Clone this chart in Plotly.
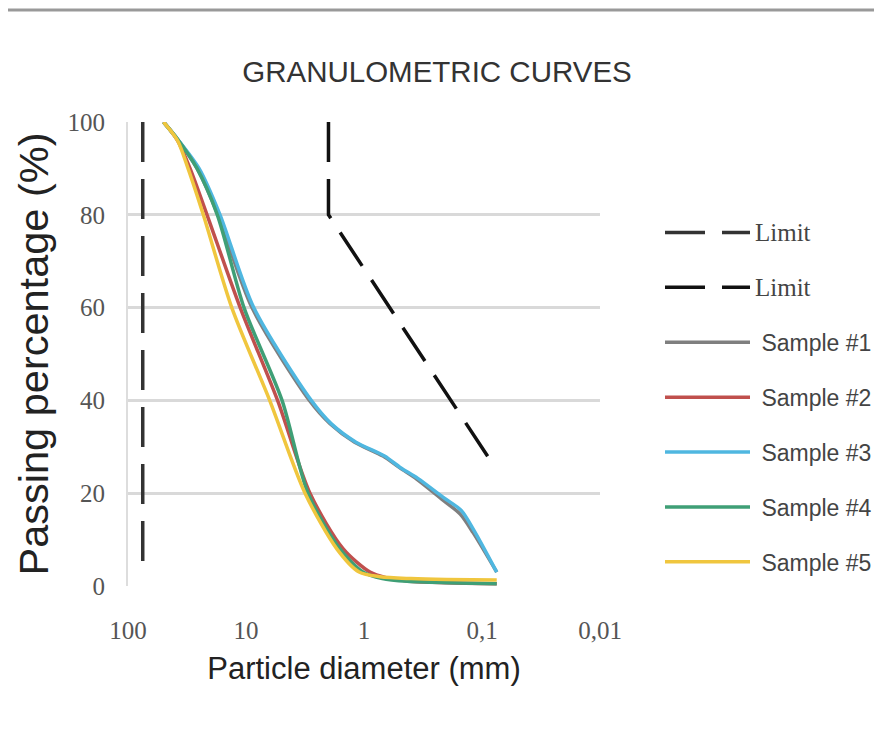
import plotly.graph_objects as go

# ---- data ----
tick_vals = [100, 10, 1, 0.1, 0.01]
tick_text = ["100", "10", "1", "0,1", "0,01"]
y_ticks = [0, 20, 40, 60, 80, 100]

limit1_d = [75, 75]
limit1_p = [100, 3]
limit2_d = [2, 2, 0.075]
limit2_p = [100, 80, 25]

sample1_d = [50, 40, 26, 17.3, 8.9, 2.9, 1.94, 1.2, 0.69, 0.5, 0.356, 0.214, 0.153, 0.119, 0.075]
sample1_p = [100, 97, 90, 80, 60, 40, 35, 31, 28, 25.5, 23, 18.5, 15.5, 11.5, 3]

sample2_d = [50, 38, 29.8, 21.4, 11.2, 5.4, 2.87, 1.5, 0.89, 0.65, 0.43, 0.2, 0.075]
sample2_p = [100, 96, 90, 80, 60, 40, 20, 8, 3, 1.8, 1.1, 0.7, 0.5]

sample3_d = [50, 40, 25, 16.6, 8.6, 2.8, 1.9, 1.17, 0.67, 0.49, 0.35, 0.21, 0.15, 0.117, 0.075]
sample3_p = [100, 97, 90, 80, 60, 40, 35, 31, 28, 25.5, 23.2, 19, 16.3, 12, 3]

sample4_d = [50, 40, 26, 17.5, 10.4, 4.95, 2.98, 1.6, 1.02, 0.7, 0.43, 0.2, 0.075]
sample4_p = [100, 97, 90, 80, 60, 40, 20, 8, 3, 1.6, 1.0, 0.7, 0.5]

sample5_d = [50, 38, 31, 23, 13.2, 6.3, 3.16, 1.7, 1.1, 0.73, 0.4, 0.2, 0.075]
sample5_p = [100, 96, 90, 80, 60, 40, 20, 8, 3, 2, 1.6, 1.4, 1.3]

series = [
    ("Sample #1", sample1_d, sample1_p, "#7f7f7f"),
    ("Sample #2", sample2_d, sample2_p, "#c0504d"),
    ("Sample #3", sample3_d, sample3_p, "#4fb7e0"),
    ("Sample #4", sample4_d, sample4_p, "#3f9f76"),
    ("Sample #5", sample5_d, sample5_p, "#f0c63e"),
]

SERIF = "Liberation Serif, Times New Roman, serif"
SANS = "Liberation Sans, Arial, sans-serif"

W, H = 882, 732
L, T, PW, PH = 120, 114, 472, 464

fig = go.Figure()

lim_name = '<span style="font-family:Liberation Serif;font-size:25px">Limit</span>'
fig.add_trace(go.Scatter(x=limit1_d, y=limit1_p, mode="lines", name=lim_name,
                         legendgroup="l1",
                         line=dict(color="#333333", width=3.5, dash="40px,17px")))
fig.add_trace(go.Scatter(x=limit2_d, y=limit2_p, mode="lines", name=lim_name,
                         legendgroup="l2",
                         line=dict(color="#111111", width=3.5, dash="40px,17px")))

for i, (name, d, p, c) in enumerate(series):
    fig.add_trace(go.Scatter(x=d, y=p, mode="lines", name="\u00a0" + name,
                             legendgroup=f"s{i}",
                             line=dict(color=c, width=3.5, shape="spline", smoothing=0.8)))

fig.update_layout(
    width=W, height=H,
    margin=dict(l=L, r=W - L - PW, t=T, b=H - T - PH, autoexpand=False),
    paper_bgcolor="white", plot_bgcolor="white",
    title=dict(text="GRANULOMETRIC CURVES", x=429 / W, xref="container", xanchor="center",
               y=1 - 64 / H, yref="container", yanchor="middle",
               font=dict(family=SANS, size=29.5, color="#333333")),
    legend=dict(x=(652 - L) / PW, xanchor="left", y=(T + PH - 203) / PH, yanchor="top",
                font=dict(family=SANS, size=23, color="#444444"),
                itemwidth=85, tracegroupgap=22, bgcolor="rgba(0,0,0,0)"),
    showlegend=True,
)

fig.update_xaxes(type="log", range=[2, -2], tickvals=tick_vals, ticktext=tick_text,
                 showgrid=False, zeroline=False, showline=False, ticks="",
                 ticklabelstandoff=27,
                 tickfont=dict(family=SERIF, size=25, color="#555555"),
                 title=dict(text="Particle diameter (mm)", standoff=14,
                            font=dict(family=SANS, size=31, color="#222222")))
fig.update_yaxes(range=[0, 100], tickvals=y_ticks, showgrid=True, gridcolor="#d9d9d9",
                 gridwidth=3, zeroline=False, showline=True, linecolor="#dddddd", linewidth=2,
                 ticks="", ticklabelstandoff=16,
                 tickfont=dict(family=SERIF, size=25, color="#555555"),
                 title=dict(text="Passing percentage (%)", standoff=6,
                            font=dict(family=SANS, size=41.5, color="#222222")))

fig.add_shape(type="line", xref="paper", yref="paper",
              x0=-L / PW, x1=(W - L) / PW, y0=(PH + T - 2) / PH, y1=(PH + T - 2) / PH,
              line=dict(color="#999999", width=3))

fig.write_html("out.html")
